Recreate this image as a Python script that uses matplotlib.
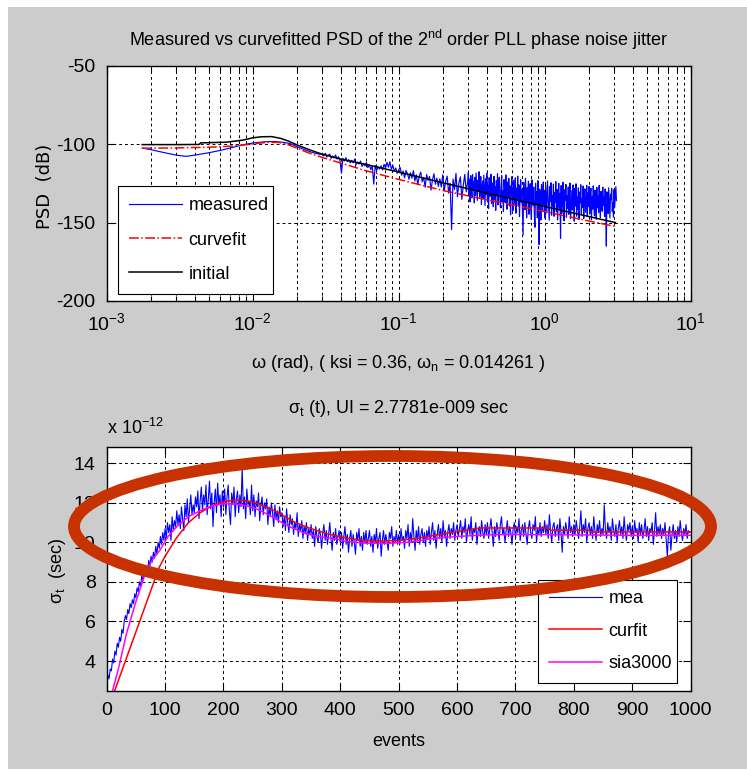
import numpy as np
import matplotlib
matplotlib.use("Agg")
import matplotlib.pyplot as plt
from matplotlib.patches import Rectangle, Ellipse
from matplotlib.ticker import LogLocator, NullFormatter

FONT = ["Liberation Sans", "DejaVu Sans"]
plt.rcParams["font.family"] = FONT
plt.rcParams["mathtext.fontset"] = "custom"
plt.rcParams["mathtext.rm"] = FONT[0]
plt.rcParams["mathtext.it"] = FONT[0]
plt.rcParams["mathtext.bf"] = FONT[0]
plt.rcParams["axes.unicode_minus"] = False

# ---------------- PSD data (upper panel) ----------------
# initial model
w_init = [0.00175, 0.0030, 0.0043, 0.0044, 0.0065, 0.0085, 0.0100, 0.0115, 0.0135,
          0.0155, 0.0175, 0.0200, 0.0240, 0.0290, 0.0400, 0.0600, 0.1000, 0.2000,
          0.4000, 0.7000, 1.0000, 1.5000, 2.0000, 2.5000, 3.05]
psd_init = [-100.3, -100.3, -100.2, -99.2, -98.8, -97.5, -96.0, -95.3, -95.2,
            -96.3, -98.0, -100.4, -103.3, -106.0, -109.5, -113.0, -117.8, -124.6,
            -131.2, -136.4, -139.7, -143.5, -146.1, -148.2, -150.0]

# curve fit
w_fit = [0.00175, 0.0030, 0.0050, 0.0070, 0.0090, 0.0110, 0.0130, 0.0150, 0.0170,
         0.0200, 0.0240, 0.0300, 0.0400, 0.0600, 0.1000, 0.2000, 0.4000, 0.7000,
         1.0000, 1.5000, 2.0000, 2.5000, 3.05]
psd_fit = [-102.6, -102.4, -102.0, -101.3, -100.4, -99.4, -98.8, -98.9, -100.0,
           -102.5, -105.5, -108.5, -112.0, -117.0, -122.5, -129.5, -135.5, -140.0,
           -143.0, -146.5, -149.0, -150.8, -152.5]

# measured, low-frequency part
w_meas_lo = [0.00175, 0.0020, 0.0025, 0.0030, 0.0035, 0.0040, 0.0050, 0.0060, 0.0070,
             0.0085, 0.0100, 0.0120, 0.0140, 0.0160, 0.0180, 0.0200, 0.0230, 0.0260,
             0.0290]
psd_meas_lo = [-102.5, -103.5, -105.5, -107.0, -107.8, -107.0, -105.5, -104.0, -102.5,
               -100.5, -99.3, -98.5, -98.3, -98.8, -99.6, -101.5, -103.8, -105.5,
               -106.5]

# measured, mid band (log-spaced bins, 0.03 .. 0.3 rad)
psd_meas_mid = [
    -106.0, -107.5, -105.8, -108.2, -107.0, -106.4, -109.1, -107.6, -108.8, -106.9,
    -109.5, -108.0, -110.4, -118.5, -109.0, -110.8, -108.6, -111.2, -109.9, -112.0,
    -110.3, -111.9, -109.6, -113.0, -111.4, -112.7, -110.8, -114.2, -112.3, -113.9,
    -111.7, -115.0, -113.1, -116.2, -114.0, -125.5, -113.6, -116.8, -114.4, -115.9,
    -113.8, -116.5, -112.9, -115.3, -111.6, -114.7, -111.2, -116.0, -113.5, -117.4,
    -115.2, -118.6, -116.3, -114.9, -119.8, -117.1, -121.5, -116.8, -119.0, -122.4,
    -118.2, -121.7, -116.9, -123.5, -119.6, -125.8, -120.3, -117.8, -124.0, -121.2,
    -127.5, -119.4, -123.1, -120.6, -129.3, -122.8, -118.9, -125.6, -121.7, -126.9,
    -122.1, -127.4, -119.5, -129.8, -123.6, -120.4, -131.2, -125.0, -154.5, -122.3,
    -128.9, -118.6, -133.5, -124.7, -120.9, -135.2, -126.1, -119.3, -130.4, -123.8,
]
w_meas_mid = np.geomspace(0.030, 0.297, len(psd_meas_mid))

# measured, high band (log-spaced bins, 0.3 .. 3.1 rad)
psd_meas_hi = [
    -118.0, -131.5, -122.4, -136.8, -120.1, -127.9, -134.2, -119.3, -129.6, -124.0,
    -137.5, -121.2, -132.7, -118.4, -126.5, -135.9, -122.9, -130.3, -117.6, -133.8,
    -125.1, -120.7, -138.4, -127.2, -123.5,
    -134.6, -119.8, -129.0, -139.2, -122.1, -131.9, -118.5, -136.0, -126.3, -141.0,
    -121.4, -133.4, -128.6, -119.2, -137.9, -124.7, -130.8, -139.9, -120.5, -135.3,
    -127.0, -142.2, -123.3, -132.1, -118.9,
    -138.7, -125.9, -121.1, -134.5, -140.6, -127.6, -120.0, -136.7, -129.8, -143.0,
    -122.6, -131.2, -137.3, -119.6, -128.4, -141.5, -124.2, -133.9, -121.8, -139.4,
    -126.6, -145.1, -130.0, -120.8, -135.7,
    -142.3, -123.0, -131.6, -138.2, -121.5, -144.0, -128.1, -134.8, -120.4, -139.6,
    -126.0, -146.2, -132.4, -122.7, -137.1, -129.3, -143.5, -158.0, -124.4, -135.0,
    -141.8, -121.9, -130.5, -147.0, -127.8,
    -136.3, -123.6, -144.7, -131.0, -125.2, -140.4, -148.1, -122.8, -134.1, -139.0,
    -127.4, -145.6, -153.0, -124.9, -137.6, -130.2, -146.9, -123.3, -141.3, -164.0,
    -128.7, -135.5, -148.4, -125.8, -132.9,
    -142.6, -124.1, -138.5, -129.5, -147.2, -126.2, -135.1, -143.9, -123.4, -131.8,
    -140.0, -148.6, -127.1, -136.4, -124.6, -145.3, -132.6, -139.7, -125.5, -146.0,
    -130.9, -137.0, -123.9, -143.1, -128.9,
    -148.3, -134.3, -125.0, -141.0, -131.3, -160.0, -126.4, -144.4, -136.9, -124.3,
    -139.1, -148.9, -129.1, -135.8, -125.7, -146.6, -133.0, -140.8, -127.3, -144.8,
    -131.5, -124.8, -147.6, -137.8, -129.7,
    -142.0, -126.0, -136.1, -149.1, -128.3, -139.4, -125.3, -145.9, -133.7, -141.6,
    -127.9, -148.0, -130.6, -137.4, -125.9, -144.1, -134.7, -140.2, -126.7, -147.4,
    -132.2, -128.5, -143.4, -138.8, -126.2,
    -146.3, -131.1, -139.8, -127.0, -144.6, -135.2, -128.1, -148.2, -133.2, -141.4,
    -126.6, -137.7, -145.7, -129.4, -134.0, -147.8, -127.6, -140.6, -132.7, -143.6,
    -126.3, -138.3, -146.8, -130.1, -135.6,
    -142.8, -127.4, -139.0, -133.6, -146.0, -128.6, -141.9, -165.0, -130.4, -136.6,
    -144.2, -127.8, -138.0, -147.1, -131.9, -135.4, -128.2, -143.0, -137.2, -146.5,
    -129.0, -140.3, -133.1, -127.1, -136.0,
]
w_meas_hi = np.geomspace(0.300, 3.1, len(psd_meas_hi))

# ---------------- jitter data (lower panel), x 1e-12 s ----------------
sigma_mea = [
    2.6, 3.3, 3.1, 3.6, 3.5, 4.1, 3.9, 4.5, 4.3, 4.9, 4.7, 5.2, 5.0, 5.6, 5.4, 6.0, 6.3, 6.1, 6.6, 6.4, 6.9, 6.7, 7.1, 6.9, 7.4,
    7.2, 7.7, 7.5, 8.0, 7.8, 8.3, 8.1, 8.6, 8.3, 8.8, 8.5, 9.1, 8.8, 9.3, 9.0, 9.5, 9.2, 9.8, 9.4, 10.0, 9.7, 10.3, 9.9, 10.5, 10.1,
    10.7, 10.2, 11.0, 10.5, 10.9, 10.1, 11.3, 10.6, 11.1, 10.8, 11.6, 10.9, 11.4, 10.7, 11.8, 11.2, 10.6, 11.9, 11.3, 12.2, 11.0, 11.7, 12.4, 11.4, 11.9,
    11.5, 12.3, 11.8, 12.6, 11.2, 12.1, 12.8, 11.6, 12.4, 11.9, 12.9, 11.4, 12.2, 13.1, 11.7, 12.5, 10.8, 12.0, 12.7, 11.5, 13.0, 11.9, 12.4, 11.3, 12.6,
    11.8, 12.7, 11.4, 12.3, 12.9, 11.6, 10.9, 12.5, 11.9, 12.8, 11.3, 12.2, 12.6, 11.5, 12.4, 11.8, 13.8, 11.7, 12.3, 11.2, 12.7, 11.9, 12.1, 11.4, 12.9,
    11.6, 12.4, 11.3, 12.1, 11.8, 12.5, 11.1, 11.9, 12.3, 11.4, 12.0, 11.7, 12.2, 10.9, 11.8, 11.3, 12.0, 11.5, 10.8, 11.9, 11.2, 11.6, 11.0, 11.8, 11.3,
    11.5, 10.8, 11.3, 10.6, 11.7, 11.0, 10.5, 11.4, 10.9, 11.2, 10.4, 11.0, 10.7, 11.5, 10.3, 10.9, 10.6, 11.1, 10.2, 10.8, 10.5, 11.0, 10.1, 10.7, 10.4,
    10.9, 10.2, 10.6, 9.8, 10.8, 10.3, 10.0, 10.7, 10.4, 9.7, 10.5, 10.9, 10.1, 10.6, 9.9, 10.4, 11.0, 10.2, 9.6, 10.5, 10.1, 10.7, 9.9, 10.3, 10.6,
    10.0, 10.5, 9.7, 10.3, 10.8, 9.9, 10.4, 9.5, 10.2, 10.6, 9.8, 10.4, 10.0, 9.4, 10.5, 10.1, 10.7, 9.8, 10.3, 9.6, 10.5, 10.0, 10.6, 9.9, 10.2,
    10.6, 9.8, 10.3, 9.5, 10.4, 10.0, 10.7, 9.7, 10.2, 10.5, 9.3, 10.1, 10.6, 9.9, 10.4, 10.0, 9.6, 10.5, 10.2, 10.8, 9.8, 10.3, 10.0, 10.6, 9.9,
    10.4, 9.9, 10.7, 10.1, 10.3, 9.7, 10.6, 10.2, 10.9, 9.8, 10.5, 10.0, 11.2, 10.3, 9.6, 10.6, 10.1, 10.8, 9.9, 10.4, 10.7, 10.0, 10.5, 9.8, 10.6,
    10.2, 10.8, 9.9, 10.5, 11.0, 10.1, 10.6, 9.7, 10.4, 10.9, 10.2, 10.7, 10.0, 11.1, 10.3, 10.6, 9.8, 10.5, 10.9, 10.2, 10.7, 10.4, 11.0, 10.1, 10.6,
    10.9, 10.3, 10.7, 11.1, 10.2, 10.8, 10.5, 11.2, 10.0, 10.6, 10.9, 10.4, 11.3, 10.1, 10.7, 10.5, 11.0, 9.9, 10.6, 10.8, 10.3, 11.1, 10.5, 10.2, 10.9,
    10.4, 11.0, 10.2, 10.7, 11.2, 10.5, 9.8, 10.8, 10.3, 11.0, 10.6, 10.1, 10.9, 11.3, 10.4, 10.7, 10.0, 10.6, 11.1, 10.3, 10.8, 10.5, 9.9, 10.7, 11.0,
    10.2, 10.8, 10.5, 11.2, 10.1, 10.6, 10.9, 10.3, 11.0, 10.4, 9.9, 10.7, 11.1, 10.5, 10.2, 10.9, 10.6, 11.3, 10.0, 10.7, 10.4, 11.0, 10.3, 10.8, 10.5,
    11.1, 10.4, 10.9, 10.2, 11.4, 10.6, 10.0, 10.8, 11.0, 10.3, 10.7, 10.9, 10.1, 11.2, 10.5, 9.5, 10.8, 10.4, 11.0, 10.6, 10.2, 11.3, 10.5, 10.8, 10.3,
    10.9, 10.4, 11.1, 10.6, 10.2, 10.8, 11.6, 10.3, 10.9, 10.5, 11.2, 10.0, 10.7, 11.0, 10.4, 10.8, 10.2, 11.3, 10.6, 10.1, 10.9, 10.5, 11.1, 10.3, 10.7,
    10.4, 11.9, 10.6, 10.2, 11.0, 10.5, 10.8, 10.1, 11.2, 10.6, 10.3, 10.9, 10.0, 10.7, 11.1, 10.4, 10.8, 10.2, 11.3, 10.5, 10.1, 10.9, 10.6, 11.0, 10.3,
    10.8, 10.2, 11.1, 10.5, 10.7, 10.0, 11.0, 10.4, 10.9, 10.2, 10.6, 11.2, 10.3, 10.8, 10.1, 10.7, 10.5, 11.0, 9.9, 10.6, 11.5, 10.3, 10.8, 10.4, 10.9,
    10.2, 10.7, 10.4, 11.0, 10.1, 9.3, 10.5, 10.8, 9.6, 10.4, 10.9, 10.2, 10.6, 10.0, 10.8, 10.3, 11.1, 10.5, 10.1, 10.7, 10.4, 10.9, 10.2, 10.6, 10.5,
]
events_mea = np.arange(len(sigma_mea)) * 2

events_fit = [10, 90, 100, 120, 140, 160, 180, 200, 220, 240, 260, 280, 300, 320, 340,
              360, 380, 400, 430, 460, 500, 530, 560, 600, 640, 755, 760, 825, 830, 1000]
sigma_fit = [2.2, 8.75, 9.3, 10.25, 11.0, 11.5, 11.85, 12.05, 12.15, 12.1, 11.95, 11.7, 11.4, 11.05, 10.8,
             10.6, 10.42, 10.28, 10.12, 10.06, 10.1, 10.2, 10.35, 10.55, 10.73, 10.73, 10.62, 10.62, 10.53, 10.53]

events_sia = [10, 20, 34, 50, 68, 80, 91, 105, 120, 140, 160, 180, 200, 220, 240, 260, 280,
              300, 320, 340, 360, 387, 410, 445, 480, 520, 560, 600, 650, 700, 800, 900, 1000]
sigma_sia = [2.5, 3.6, 5.4, 7.0, 8.6, 9.2, 9.6, 10.3, 10.8, 11.3, 11.6, 11.85, 11.95, 11.95, 11.85, 11.65, 11.35,
             11.0, 10.7, 10.45, 10.3, 10.2, 10.05, 9.96, 9.95, 10.02, 10.2, 10.3, 10.38, 10.4, 10.38, 10.36, 10.36]

# ---------------- figure ----------------
W, H = 747, 769
fig = plt.figure(figsize=(W / 100, H / 100), dpi=100)
fig.patch.set_facecolor("white")
fig.add_artist(Rectangle((8 / W, 0), 1 - 8 / W, 1 - 7 / H, transform=fig.transFigure,
                         facecolor="#CCCCCC", edgecolor="none", zorder=-5))

left, width = 106.7 / W, 584 / W
ax1 = fig.add_axes([left, 1 - 301 / H, width, (301 - 65.7) / H])
ax2 = fig.add_axes([left, 1 - 690.7 / H, width, (690.7 - 446.7) / H])

GRID = dict(color="black", linestyle=(0, (3, 3)), linewidth=0.7)
TS = 13      # text size
TK = 14      # tick label size

def style(ax):
    ax.set_facecolor("white")
    for s in ax.spines.values():
        s.set_linewidth(1.0)
    ax.tick_params(which="both", direction="in", top=True, right=True,
                   labelsize=TK, pad=8)
    ax.tick_params(which="major", length=6, width=0.8)
    ax.tick_params(which="minor", length=3.5, width=0.8)

LEG = dict(fontsize=TS, frameon=True, fancybox=False, edgecolor="black", framealpha=1,
           handlelength=2.95, handletextpad=0.35, borderaxespad=0, mode="expand",
           loc="lower left")

# upper panel
ax1.plot(np.concatenate([w_meas_lo, w_meas_mid, w_meas_hi]),
         np.concatenate([psd_meas_lo, psd_meas_mid, psd_meas_hi]),
         color="#0000FF", lw=0.85, label="measured")
ax1.plot(w_fit, psd_fit, color="#FF0000", lw=1.1, linestyle="-.", label="curvefit")
ax1.plot(w_init, psd_init, color="black", lw=1.1, label="initial")
ax1.set_xscale("log")
ax1.set_xlim(1e-3, 1e1)
ax1.set_ylim(-200, -50)
ax1.set_yticks([-200, -150, -100, -50])
ax1.xaxis.set_major_locator(LogLocator(base=10, numticks=10))
ax1.xaxis.set_minor_locator(LogLocator(base=10, subs=np.arange(2, 10), numticks=20))
ax1.xaxis.set_minor_formatter(NullFormatter())
style(ax1)
ax1.grid(True, which="both", axis="x", **GRID)
ax1.grid(True, which="major", axis="y", **GRID)
ax1.set_title("Measured vs curvefitted PSD of the 2$^{\\mathrm{nd}}$ order PLL phase noise jitter",
              fontsize=TS, pad=14)
ax1.set_xlabel("ω (rad), ( ksi = 0.36, ω$_{\\mathrm{n}}$ = 0.014261 )", fontsize=TS, labelpad=14)
fig.text(45 / W, 1 - 186 / H, "PSD  (dB)", fontsize=TS, family="DejaVu Sans",
         rotation=90, ha="center", va="center")
leg1 = ax1.legend(bbox_to_anchor=(0.0193, 0.0298, 0.2654, 0.1), borderpad=0.62,
                  labelspacing=0.95, **LEG)
leg1.get_frame().set_linewidth(0.8)

# lower panel
ax2.plot(events_mea, sigma_mea, color="#0000FF", lw=0.8, label="mea")
ax2.plot(events_fit, sigma_fit, color="#FF0000", lw=1.1, label="curfit")
ax2.plot(events_sia, sigma_sia, color="#FF00FF", lw=1.1, label="sia3000")
ax2.set_xlim(0, 1000)
ax2.set_ylim(2.5, 14.84)
ax2.set_xticks(np.arange(0, 1001, 100))
ax2.set_yticks([4, 6, 8, 10, 12, 14])
style(ax2)
ax2.grid(True, **GRID)
ax2.set_title("σ$_{\\mathrm{t}}$ (t), UI = 2.7781e-009 sec", fontsize=TS, pad=24)
ax2.text(0.0, 1.035, "x 10$^{-12}$", transform=ax2.transAxes, fontsize=TS,
         ha="left", va="bottom")
ax2.set_xlabel("events", fontsize=TS, labelpad=10)
fig.text(57 / W, 1 - 571 / H, "σ$_{\\mathrm{t}}$  (sec)", fontsize=TS,
         rotation=90, ha="center", va="center")
leg2 = ax2.legend(bbox_to_anchor=(0.7385, 0.0316, 0.238, 0.1), borderpad=0.6,
                  labelspacing=0.85, **LEG)
leg2.get_frame().set_linewidth(0.8)

# highlight ring around the settled jitter region
fig.add_artist(Ellipse((392.5 / W, 1 - 526.5 / H), 637 / W, 141 / H,
                       transform=fig.transFigure, fill=False,
                       edgecolor="#C83200", linewidth=8.5, zorder=20))

fig.savefig("out.png", dpi=100)
